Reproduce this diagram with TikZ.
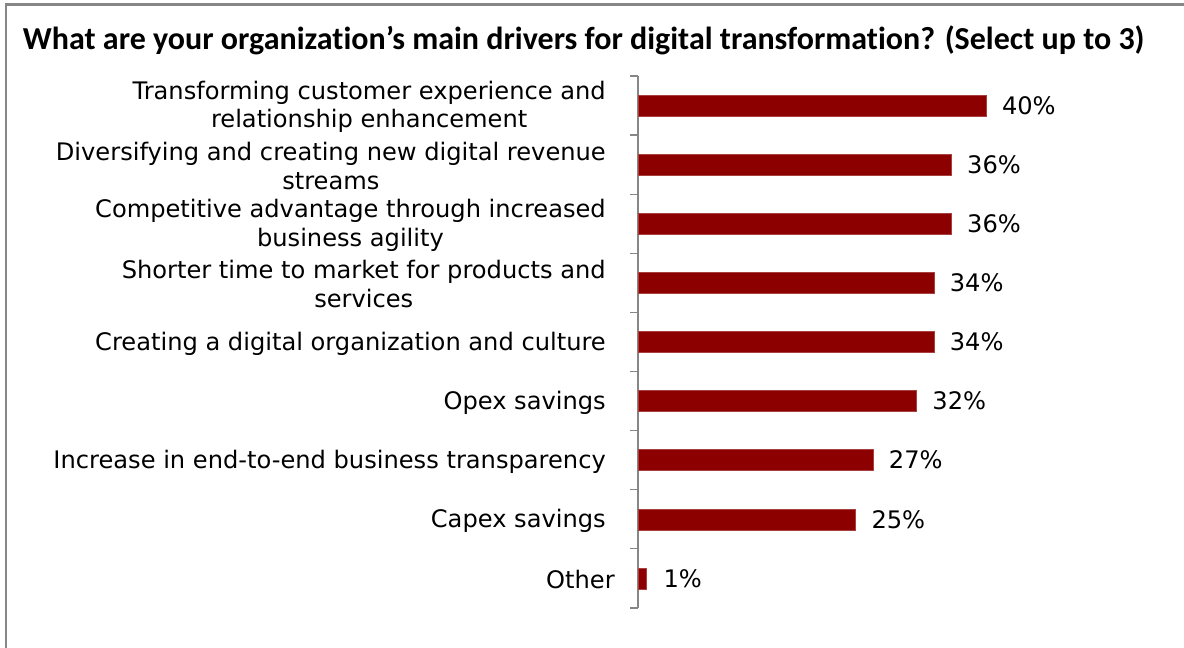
\documentclass[tikz,border=0pt]{standalone}
\usepackage{fontspec}
\setmainfont{DejaVu Sans}
\newfontfamily\titlefont[Ligatures=NoCommon]{Carlito}
\usepackage{tikz}
\usetikzlibrary{positioning}

\definecolor{barred}{RGB}{140,0,0}
\definecolor{axisgray}{RGB}{134,134,134}

\begin{document}
\begin{tikzpicture}[x=0.75pt,y=-0.75pt,
    cat/.style={anchor=east,align=center,inner sep=0pt,
      font=\fontsize{18.1}{21.5}\selectfont},
    drvbar/.style={anchor=west,inner sep=0pt,outer sep=0pt,fill=barred,
      draw=barred!75!white,line width=0.4pt,
      minimum height=15.75pt,minimum width=#1*6.525pt},
    val/.style={inner sep=0pt,font=\fontsize{18.1}{21.5}\selectfont},
    axis/.style={draw=axisgray,line width=1pt}]
  \useasboundingbox (0,0) rectangle (1184,648);
  % frame
  \draw[axisgray,line width=1.6pt] (6,648) -- (6,4.5) -- (1184,4.5);
  \node[anchor=base west,inner sep=0pt,
    font=\titlefont\bfseries\fontsize{24}{28}\selectfont] (title)
    at (22.7,49.3) {What are your organization’s main drivers for digital transformation? (Select up to 3)};
  % axis
  \coordinate (axtop) at (638,76);
  \coordinate (axbot) at (638,608);
  \draw[axis] (axtop) -- (axbot);
  \foreach \k in {0,...,9}
    \draw[axis] (630,{76+59.1*\k}) -- ++(8,0);
  % categories
  \node[cat] (c1) at (606,107) {Transforming customer experience and\\relationship enhancement};
  \node[cat] (c2) at (606,166.1) {Diversifying and creating new digital revenue\\streams};
  \node[cat] (c3) at (606,225.2) {Competitive advantage through increased\\business agility};
  \node[cat] (c4) at (606,284.3) {Shorter time to market for products and\\services};
  \node[cat] (c5) at (606,343.4) {Creating a digital organization and culture};
  \node[cat] (c6) at (606,402.5) {Opex savings};
  \node[cat] (c7) at (606,461.6) {Increase in end-to-end business transparency};
  \node[cat] (c8) at (606,520.7) {Capex savings};
  \node[cat] (c9) at (615,579.8) {Other};
  % bars
  \node[drvbar=40] (b1) at (638,105.6) {};
  \node[drvbar=36] (b2) at (638,164.7) {};
  \node[drvbar=36] (b3) at (638,223.8) {};
  \node[drvbar=34] (b4) at (638,282.9) {};
  \node[drvbar=34] (b5) at (638,342.0) {};
  \node[drvbar=32] (b6) at (638,401.1) {};
  \node[drvbar=27] (b7) at (638,460.2) {};
  \node[drvbar=25] (b8) at (638,519.3) {};
  \node[drvbar=1]  (b9) at (638,578.4) {};
  % values
  \node[val,right=11.8pt of b1] (v1) {40\%};
  \node[val,right=11.8pt of b2] (v2) {36\%};
  \node[val,right=11.8pt of b3] (v3) {36\%};
  \node[val,right=11.8pt of b4] (v4) {34\%};
  \node[val,right=11.8pt of b5] (v5) {34\%};
  \node[val,right=11.8pt of b6] (v6) {32\%};
  \node[val,right=11.8pt of b7] (v7) {27\%};
  \node[val,right=11.8pt of b8] (v8) {25\%};
  \node[val,right=12.5pt of b9] (v9) {1\%};
\end{tikzpicture}
\end{document}
